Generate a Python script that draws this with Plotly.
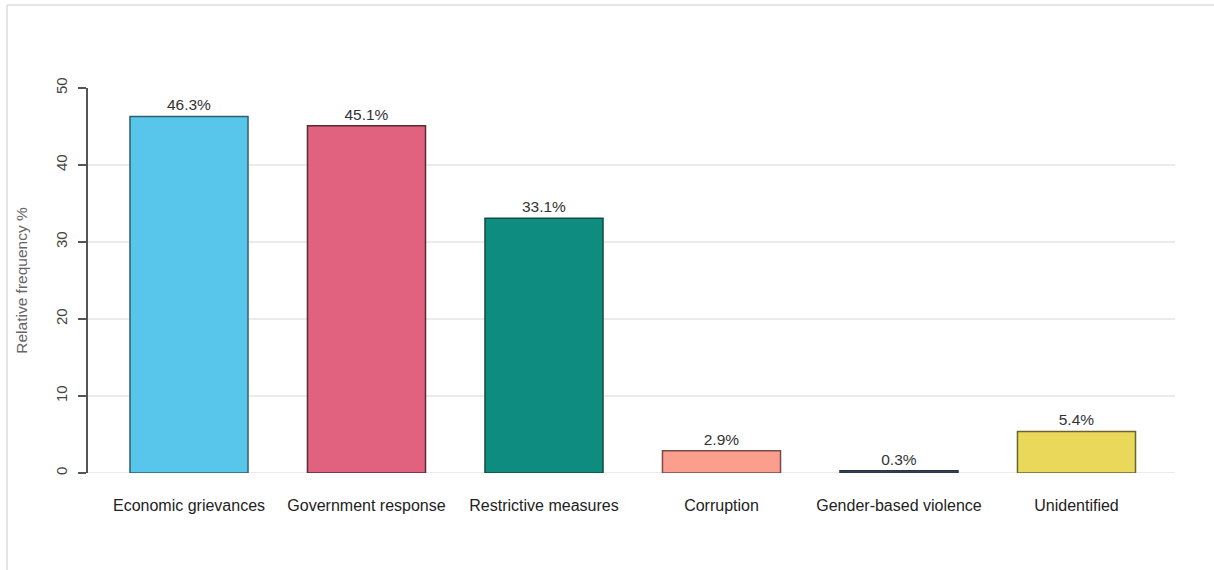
import plotly.graph_objects as go

categories = ["Economic grievances", "Government response", "Restrictive measures",
              "Corruption", "Gender-based violence", "Unidentified"]
values = [46.3, 45.1, 33.1, 2.9, 0.3, 5.4]
labels = ["46.3%", "45.1%", "33.1%", "2.9%", "0.3%", "5.4%"]
colors = ["#58C5EA", "#E0627F", "#0F8C80", "#FB9E8E", "#3A4868", "#E9D85A"]
outline = ["#2F5F70", "#5A2A35", "#124A44", "#7A4A44", "#2A3348", "#6B6430"]
y_ticks = [0, 10, 20, 30, 40, 50]

W, H = 1214, 570
L, R, T, B = 88, 39, 88, 97
pw, ph = W - L - R, H - T - B

fig = go.Figure(go.Bar(
    x=categories, y=values, text=labels, textposition="outside",
    textfont=dict(size=15.5, color="#333333", family="Liberation Sans, Arial"),
    marker=dict(color=colors, line=dict(color=outline, width=1.5)),
    width=0.665, cliponaxis=False,
))

fig.update_layout(
    width=W, height=H,
    margin=dict(l=L, r=R, t=T, b=B),
    plot_bgcolor="white", paper_bgcolor="white",
    showlegend=False,
    font=dict(family="Liberation Sans, Arial", color="#333333"),
    xaxis=dict(range=[-0.569, 5.555], showline=False, ticks="",
               ticklabelstandoff=21,
               tickfont=dict(size=16, color="#222222"), showgrid=False),
    yaxis=dict(range=[0, 50], tickvals=y_ticks, tickangle=-90,
               showline=True, linecolor="#555555", linewidth=1.5,
               ticks="outside", ticklen=8, tickcolor="#555555", tickwidth=1.5,
               ticklabelstandoff=5,
               tickfont=dict(size=15, color="#444444"),
               showgrid=True, gridcolor="#ebebeb", gridwidth=2,
               zeroline=False,
               title=dict(text="Relative frequency %", standoff=22,
                          font=dict(size=15.5, color="#666666"))),
)

# faint outer frame (left and top edges)
fx = (7 - L) / pw
fy = (H - B - 5) / ph
fig.add_shape(type="line", xref="paper", yref="paper", x0=fx, x1=fx, y0=fy, y1=-0.3,
              line=dict(color="#dddddd", width=1.5))
fig.add_shape(type="line", xref="paper", yref="paper", x0=fx, x1=1.1, y0=fy, y1=fy,
              line=dict(color="#dddddd", width=1.5))
fig.add_shape(type="line", xref="paper", yref="y", x0=0, x1=1, y0=0, y1=0,
              line=dict(color="#ebebeb", width=2), layer="below")

fig.write_html("out.html",
               config={"displayModeBar": False},
               post_script="document.body.style.margin='0';document.body.style.overflow='hidden';")
